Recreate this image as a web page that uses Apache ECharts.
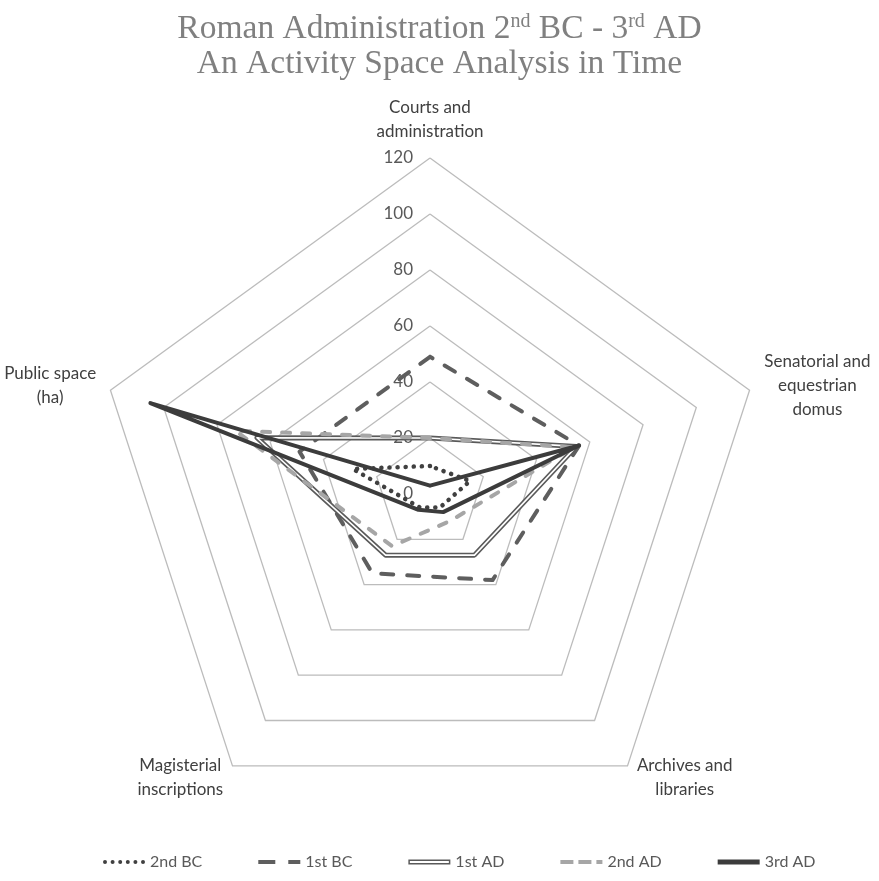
<!DOCTYPE html>
<html>
<head>
<meta charset="utf-8">
<script src="https://cdn.jsdelivr.net/npm/echarts@6/dist/echarts.min.js"></script>
<style>
  html, body { margin: 0; padding: 0; background: #ffffff; }
  #chart { width: 879px; height: 881px; }
</style>
</head>
<body>
<div id="chart"></div>
<script>
// Indicators in ECharts order (counter-clockwise from the top)
const indicatorNames = [
  'Courts and\nadministration',
  'Public space\n(ha)',
  'Magisterial\ninscriptions',
  'Archives and\nlibraries',
  'Senatorial and\nequestrian\ndomus'
];
const axisMin = 0;
const axisMax = 120;
const axisStep = 20;

const seriesNames = ['2nd BC', '1st BC', '1st AD', '2nd AD', '3rd AD'];
const s2ndBC = [10, 29, 6, 6, 15];
const s1stBC = [49, 49, 35, 38, 56];
const s1stAD = [20, 65, 27, 27, 55];
const s2ndAD = [20, 73, 23, 12, 54];
const s3rdAD = [3, 105, 7, 8, 56];

const LABEL_FONT_FAMILY = 'Lato';
const NAME_SIZE = 17;

// measure each label block so its lines can be centred inside it
const measureCtx = document.createElement('canvas').getContext('2d');
measureCtx.font = NAME_SIZE + 'px ' + LABEL_FONT_FAMILY;
const nameRich = {};
indicatorNames.forEach(function (n, i) {
  let w = 0;
  n.split('\n').forEach(function (l) { w = Math.max(w, measureCtx.measureText(l).width); });
  nameRich['n' + i] = {
    width: Math.ceil(w) + 2, align: 'center', color: '#404040',
    fontFamily: LABEL_FONT_FAMILY, fontSize: NAME_SIZE, lineHeight: 24
  };
});

const indicators = indicatorNames.map(function (n, i) {
  const ind = { name: n, min: axisMin, max: axisMax };
  if (i === 0) ind.axisLabel = { show: true };
  return ind;
});

function radarSeries(name, values, color, width, type, cap, z) {
  return {
    type: 'radar',
    z: z,
    symbol: 'none',
    silent: true,
    emphasis: { disabled: true },
    data: [{
      name: name,
      value: values,
      itemStyle: { color: color },
      lineStyle: { color: color, width: width, type: type, cap: cap, join: 'round' }
    }]
  };
}

const legendIcons = {
  '2nd BC': 'path://M0,3a2,2 0 1,0 4,0a2,2 0 1,0 -4,0z M7.6,3a2,2 0 1,0 4,0a2,2 0 1,0 -4,0z M15.2,3a2,2 0 1,0 4,0a2,2 0 1,0 -4,0z M22.8,3a2,2 0 1,0 4,0a2,2 0 1,0 -4,0z M30.4,3a2,2 0 1,0 4,0a2,2 0 1,0 -4,0z M38,3a2,2 0 1,0 4,0a2,2 0 1,0 -4,0z',
  '1st BC': 'path://M0,1h17v4h-17z M30,1h12v4h-12z',
  '1st AD': 'path://M0,0.5h42v5h-42z M1.5,2v2h39v-2z',
  '2nd AD': 'path://M0,1h13v4h-13z M18,1h13v4h-13z M36,1h6v4h-6z',
  '3rd AD': 'path://M0,0.5h42v5h-42z'
};

const option = {
  backgroundColor: '#ffffff',
  animation: false,
  title: {
    left: 'center',
    top: 12,
    padding: 0,
    text: '{a|Roman Administration 2}{s|nd}{a| BC - 3}{s|rd}{a| AD}\n{a|An Activity Space Analysis in Time}',
    textStyle: {
      fontWeight: 'normal',
      rich: {
        a: { fontFamily: '"Liberation Serif", "DejaVu Serif", serif', fontWeight: 'normal', fontSize: 33.5, lineHeight: 35, color: '#808080' },
        s: { fontFamily: '"Liberation Serif", "DejaVu Serif", serif', fontWeight: 'normal', fontSize: 20, lineHeight: 22, color: '#808080', verticalAlign: 'top' }
      }
    }
  },
  legend: {
    bottom: 6,
    left: 98,
    itemWidth: 42,
    itemHeight: 6,
    itemGap: 56,
    selectedMode: false,
    textStyle: { fontFamily: LABEL_FONT_FAMILY, fontSize: 16, color: '#595959' },
    data: seriesNames.map(function (n) { return { name: n, icon: legendIcons[n] }; })
  },
  radar: {
    center: [430, 494],
    radius: 336,
    startAngle: 90,
    shape: 'polygon',
    splitNumber: axisMax / axisStep,
    indicator: indicators,
    nameGap: 14,
    axisName: {
      color: '#404040', fontFamily: LABEL_FONT_FAMILY, fontSize: NAME_SIZE, lineHeight: 24,
      formatter: function (name) {
        const i = indicatorNames.indexOf(name);
        return name.split('\n').map(function (l) { return '{n' + i + '|' + l + '}'; }).join('\n');
      },
      rich: nameRich
    },
    axisLine: { show: false },
    axisTick: { show: false },
    axisLabel: { show: false, color: '#595959', fontFamily: LABEL_FONT_FAMILY, fontSize: 17, margin: 17 },
    splitLine: { lineStyle: { color: '#bcbcbc', width: 1.3 } },
    splitArea: { show: false }
  },
  series: [
    radarSeries(seriesNames[0], s2ndBC, '#404040', 4.5, [0.1, 8], 'round', 2),
    radarSeries(seriesNames[1], s1stBC, '#5e5e5e', 4, [12, 14], 'round', 3),
    radarSeries(seriesNames[2], s1stAD, '#5a5a5a', 5, 'solid', 'butt', 4),
    radarSeries(seriesNames[2], s1stAD, '#ffffff', 1.6, 'solid', 'butt', 5),
    radarSeries(seriesNames[3], s2ndAD, '#a6a6a6', 4, [8, 12], 'round', 6),
    radarSeries(seriesNames[4], s3rdAD, '#3c3c3c', 4, 'solid', 'round', 7)
  ]
};

const chart = echarts.init(document.getElementById('chart'), null, { renderer: 'canvas' });
chart.setOption(option);
</script>
</body>
</html>
